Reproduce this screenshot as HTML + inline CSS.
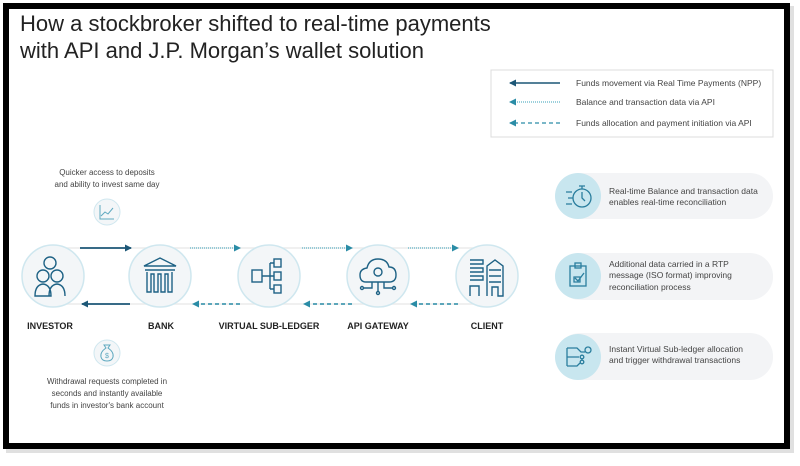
<!DOCTYPE html>
<html><head><meta charset="utf-8"><style>
html,body{margin:0;padding:0;background:#fff;}
body{width:800px;height:461px;overflow:hidden;font-family:"Liberation Sans",Arial,sans-serif;}
</style></head><body>
<svg width="800" height="461" viewBox="0 0 800 461" xmlns="http://www.w3.org/2000/svg" font-family="Liberation Sans, Arial, sans-serif">
<defs>
<marker id="an" markerWidth="8" markerHeight="8" refX="6" refY="4" orient="auto" markerUnits="userSpaceOnUse"><path d="M0,0.5 L7,4 L0,7.5 Z" fill="#1c5777"/></marker>
<marker id="at" markerWidth="8" markerHeight="8" refX="6" refY="4" orient="auto" markerUnits="userSpaceOnUse"><path d="M0,0.5 L7,4 L0,7.5 Z" fill="#2a8ca6"/></marker>
</defs>
<rect x="6" y="6" width="788" height="447" fill="#ccc" opacity="0.6"/>
<rect x="6" y="6" width="781" height="440" fill="#fff" stroke="#000" stroke-width="6"/>
<text x="20" y="31" font-size="22" fill="#222">How a stockbroker shifted to real-time payments</text>
<text x="20" y="58" font-size="22" fill="#222">with API and J.P. Morgan’s wallet solution</text>

<!-- legend -->
<rect x="491" y="70" width="282" height="67" fill="#fff" stroke="#dcdcdc"/>
<line x1="560" y1="83" x2="510" y2="83" stroke="#1c5777" stroke-width="1.6" marker-end="url(#an)"/>
<line x1="560" y1="102" x2="510" y2="102" stroke="#5fb3c8" stroke-width="1.3" stroke-dasharray="1,1" marker-end="url(#at)"/>
<line x1="560" y1="123" x2="510" y2="123" stroke="#2a8ca6" stroke-width="1.3" stroke-dasharray="4,3" marker-end="url(#at)"/>
<g font-size="8.5" fill="#444">
<text x="576" y="86">Funds movement via Real Time Payments (NPP)</text>
<text x="576" y="105">Balance and transaction data via API</text>
<text x="576" y="126">Funds allocation and payment initiation via API</text>
</g>

<!-- faint connector lines -->
<line x1="53" y1="248" x2="487" y2="248" stroke="#ececec" stroke-width="1.5"/>
<line x1="53" y1="304" x2="487" y2="304" stroke="#ececec" stroke-width="1.5"/>

<!-- nodes -->
<g fill="#f3f6f8" stroke="#cfe7ef" stroke-width="1.5">
<circle cx="53" cy="276" r="31"/><circle cx="160" cy="276" r="31"/><circle cx="269" cy="276" r="31"/><circle cx="378" cy="276" r="31"/><circle cx="487" cy="276" r="31"/>
</g>
<!-- icons -->
<g fill="none" stroke="#1e6285" stroke-width="1.4">
<circle cx="50" cy="263" r="6"/><circle cx="43" cy="276" r="6"/><circle cx="57" cy="276" r="6"/>
<path d="M35,296 q0,-11 8,-12 q8,1 8,12 Z M49,296 q0,-11 8,-12 q8,1 8,12"/>
<path d="M144,266 l16,-8 l16,8 Z M145,270 h30 M147,272 v20 h4 v-18 h3 v18 h4 v-18 h3 v18 h4 v-18 h3 v18 h4 v-20"/>
<rect x="252" y="270" width="10" height="12"/><path d="M262,276 h8 M270,263 v26 M270,263 h4 M270,276 h4 M270,289 h4"/>
<rect x="274" y="259" width="7" height="8"/><rect x="274" y="272" width="7" height="8"/><rect x="274" y="285" width="7" height="8"/>
<path d="M366,282 q-6,0 -6,-7 q0,-6 7,-7 q2,-9 11,-9 q9,0 11,8 q7,0 7,8 q0,7 -7,7 Z"/><circle cx="378" cy="272" r="4"/>
<path d="M372,282 v6 h-8 M378,282 v10 M384,282 v6 h8"/><circle cx="362" cy="288" r="1.5"/><circle cx="378" cy="293" r="1.5"/><circle cx="394" cy="288" r="1.5"/>
<path d="M470,260 h13 v4 h-13 M470,268 h13 v4 h-13 M470,276 h13 v4 h-13 M470,296 v-10 h9 v10 M487,296 v-30 l8,-6 l8,6 v30 h-5 v-9 h-6 v9 M489,270 h12 M489,276 h12 M489,282 h12"/>
</g>

<!-- arrows top -->
<line x1="80" y1="248" x2="131" y2="248" stroke="#1c5777" stroke-width="1.8" marker-end="url(#an)"/>
<line x1="190" y1="248" x2="240" y2="248" stroke="#5fb3c8" stroke-width="1.3" stroke-dasharray="1,1" marker-end="url(#at)"/>
<line x1="302" y1="248" x2="352" y2="248" stroke="#5fb3c8" stroke-width="1.3" stroke-dasharray="1,1" marker-end="url(#at)"/>
<line x1="408" y1="248" x2="458" y2="248" stroke="#5fb3c8" stroke-width="1.3" stroke-dasharray="1,1" marker-end="url(#at)"/>
<!-- arrows bottom -->
<line x1="130" y1="304" x2="82" y2="304" stroke="#1c5777" stroke-width="1.8" marker-end="url(#an)"/>
<line x1="240" y1="304" x2="193" y2="304" stroke="#2a8ca6" stroke-width="1.4" stroke-dasharray="4,3" marker-end="url(#at)"/>
<line x1="352" y1="304" x2="304" y2="304" stroke="#2a8ca6" stroke-width="1.4" stroke-dasharray="4,3" marker-end="url(#at)"/>
<line x1="458" y1="304" x2="411" y2="304" stroke="#2a8ca6" stroke-width="1.4" stroke-dasharray="4,3" marker-end="url(#at)"/>

<g font-size="9" font-weight="bold" fill="#222" text-anchor="middle">
<text x="50" y="329">INVESTOR</text><text x="161" y="329">BANK</text><text x="269" y="329">VIRTUAL SUB-LEDGER</text><text x="378" y="329">API GATEWAY</text><text x="487" y="329">CLIENT</text>
</g>

<g font-size="8" fill="#444" text-anchor="middle">
<text x="107" y="175">Quicker access to deposits</text><text x="107" y="187">and ability to invest same day</text>
<text x="107" y="384">Withdrawal requests completed in</text><text x="107" y="396">seconds and instantly available</text><text x="107" y="408">funds in investor's bank account</text>
</g>
<circle cx="107" cy="212" r="13" fill="#f3f6f8" stroke="#cfe7ef"/>
<path d="M100,205 v14 h14 M101,216 l4,-4 l3,2 l5,-6" fill="none" stroke="#5fa9c0" stroke-width="1"/>
<circle cx="107" cy="353" r="13" fill="#f3f6f8" stroke="#cfe7ef"/>
<path d="M104,345 h6 l-2,3 q6,4 5,9 q-1,4 -6,4 q-5,0 -6,-4 q-1,-5 5,-9 Z" fill="none" stroke="#5fa9c0" stroke-width="1"/>
<text x="107" y="358" font-size="7" fill="#5fa9c0" text-anchor="middle">$</text>

<!-- right cards -->
<g fill="#f3f4f6">
<rect x="557" y="173" width="216" height="46" rx="23"/>
<rect x="557" y="253" width="216" height="47" rx="23"/>
<rect x="557" y="333" width="216" height="47" rx="23"/>
</g>
<g fill="#c8e6ef">
<circle cx="578" cy="196" r="23"/><circle cx="578" cy="276" r="23"/><circle cx="578" cy="357" r="23"/>
</g>
<g fill="none" stroke="#2a7e9e" stroke-width="1.3">
<circle cx="582" cy="198" r="9"/><path d="M582,192 v6 l3,3 M579,186 h6 M582,186 v3 M566,192 h6 M568,198 h5 M566,204 h6"/>
<rect x="570" y="266" width="16" height="20"/><rect x="575" y="263" width="6" height="5"/><path d="M574,277 h6 v5 h-6 Z M575,278 l3,3 l6,-8"/>
<path d="M567,348 h10 l4,4 h4 M567,357 h12 M567,366 h10 l3,-3 M567,348 v18"/><circle cx="588" cy="350" r="3"/><circle cx="582" cy="357" r="1.8"/><circle cx="582" cy="362" r="1.8"/>
</g>
<g font-size="8.5" fill="#444">
<text x="609" y="194">Real-time Balance and transaction data</text><text x="609" y="205">enables real-time reconciliation</text>
<text x="609" y="267">Additional data carried in a RTP</text><text x="609" y="278">message (ISO format) improving</text><text x="609" y="290">reconciliation process</text>
<text x="609" y="352">Instant Virtual Sub-ledger allocation</text><text x="609" y="363">and trigger withdrawal transactions</text>
</g>
</svg>
</body></html>
